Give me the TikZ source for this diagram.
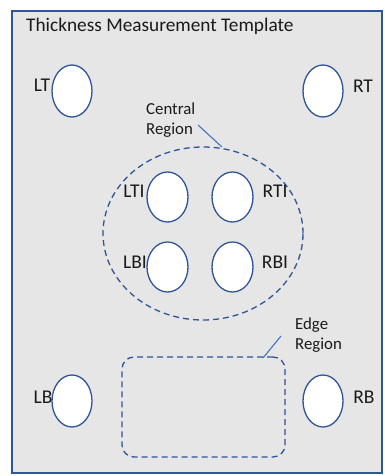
\documentclass[tikz,border=0pt]{standalone}
\usepackage{fontspec}
\setmainfont{Carlito}
\usetikzlibrary{shapes.geometric}
\begin{document}
\begin{tikzpicture}[x=1pt,y=-1pt,
  pad/.style={draw=padblue,line width=1.3pt,fill=white,ellipse,inner sep=0pt,minimum width=40pt,minimum height=52pt},
  ipad/.style={pad,minimum width=41pt,minimum height=50pt},
  lbl/.style={text=txt,font=\fontsize{19.5}{21}\selectfont,inner sep=0pt},
  note/.style={text=txt,font=\fontsize{16.8}{19.5}\selectfont,align=left,inner sep=0pt,anchor=north west},
  region/.style={draw=padblue,line width=1.3pt,dash pattern=on 6pt off 4pt},
  leader/.style={draw=leadblue,line width=1.1pt}]
\definecolor{padblue}{HTML}{2F5597}
\definecolor{leadblue}{HTML}{4472C4}
\definecolor{txt}{HTML}{1A1A1A}
\definecolor{plate}{HTML}{E6E6E6}
\useasboundingbox (0,0) rectangle (385,476);
\fill[white] (0,0) rectangle (385,476);
\draw[fill=plate,draw=padblue,line width=1.4pt] (12,11) rectangle (382,473);
\node[text=txt,font=\fontsize{19.3}{22}\selectfont,anchor=west,inner sep=0pt] (title) at (26,26) {Thickness Measurement Template};
% corner pads
\node[pad] (pLT) at (72,91) {};
\node[lbl] (LT) at (42,85) {LT};
\node[pad] (pRT) at (323,91) {};
\node[lbl] (RT) at (363,86) {RT};
\node[pad] (pLB) at (72,401) {};
\node[lbl] (LB) at (43,397.5) {LB};
\node[pad] (pRB) at (323,401) {};
\node[lbl] (RB) at (364,397.5) {RB};
% central region
\node[region,ellipse,minimum width=200pt,minimum height=173pt,inner sep=0pt] (central region) at (203,233.5) {};
\coordinate (cr) at (222,147);
\node[note] (central) at (146,103) {Central\\Region};
\coordinate (crs) at (198,125);
\draw[leader] (crs) -- (cr);
\node[ipad] (pLTI) at (167.5,197) {};
\node[ipad] (pRTI) at (232.5,197) {};
\node[ipad] (pLBI) at (167.5,267) {};
\node[ipad] (pRBI) at (232.5,267) {};
\node[lbl] (LTI) at (134,191) {LTI};
\node[lbl] (RTI) at (275,191) {RTI};
\node[lbl] (LBI) at (135,262) {LBI};
\node[lbl] (RBI) at (275,262) {RBI};
% edge region
\node[region,rectangle,rounded corners=12pt,minimum width=163pt,minimum height=100pt,inner sep=0pt] (edge region) at (203.5,407) {};
\node[note] (edge) at (295,318) {Edge\\Region};
\coordinate (ers) at (281,336);
\coordinate (er) at (263,358);
\draw[leader] (ers) -- (er);
\end{tikzpicture}
\end{document}
